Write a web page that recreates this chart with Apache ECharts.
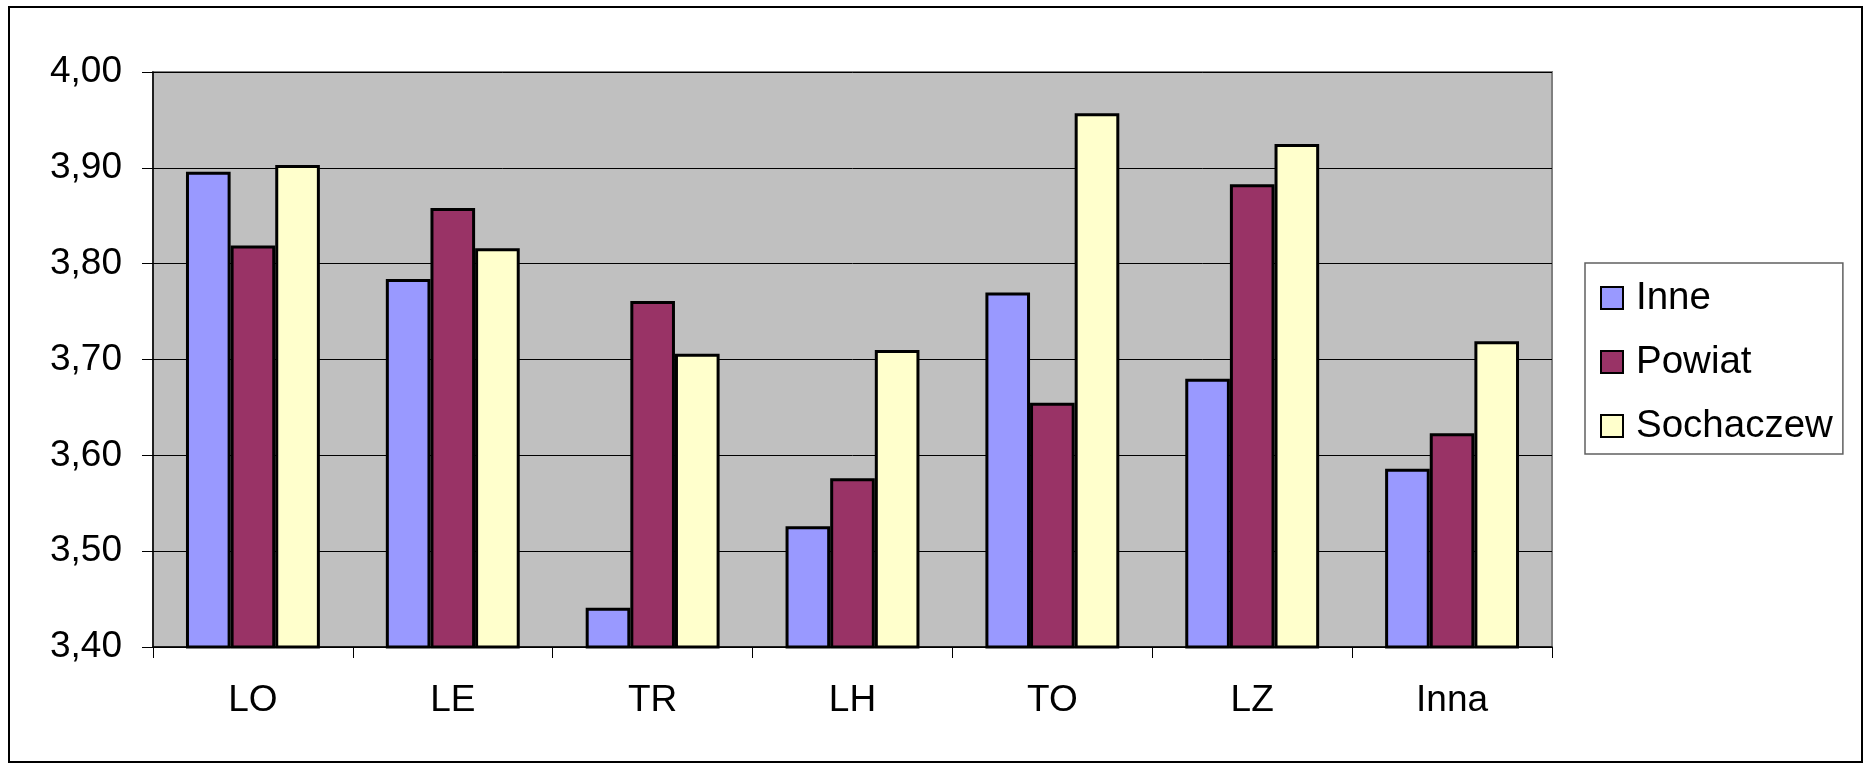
<!DOCTYPE html>
<html>
<head>
<meta charset="utf-8">
<script src="https://cdn.jsdelivr.net/npm/echarts@6/dist/echarts.min.js"></script>
<style>
html,body{margin:0;padding:0;background:#fff;}
#chart{width:1866px;height:765px;}
</style>
</head>
<body>
<div id="chart"></div>
<script>
const categories = ['LO', 'LE', 'TR', 'LH', 'TO', 'LZ', 'Inna'];
const inne = [3.896, 3.784, 3.441, 3.526, 3.770, 3.680, 3.586];
const powiat = [3.819, 3.858, 3.761, 3.576, 3.655, 3.883, 3.623];
const sochaczew = [3.903, 3.816, 3.706, 3.710, 3.957, 3.925, 3.719];
const seriesNames = ['Inne', 'Powiat', 'Sochaczew'];
const seriesColors = ['#9999FF', '#993366', '#FFFFCC'];
const yMin = 3.4, yMax = 4.0, yStep = 0.1;

const FONT = '"Liberation Sans", Arial, sans-serif';
const chart = echarts.init(document.getElementById('chart'), null, {renderer: 'canvas'});
const values = [inne, powiat, sochaczew];

chart.setOption({
  animation: false,
  backgroundColor: '#ffffff',
  graphic: [{
    type: 'rect',
    shape: {x: 9, y: 7, width: 1853, height: 755},
    style: {fill: 'none', stroke: '#000', lineWidth: 2},
    z: -1
  }],
  grid: {
    left: 153, top: 72, width: 1399, height: 575,
    show: true, backgroundColor: '#C0C0C0', borderColor: '#808080', borderWidth: 2
  },
  legend: {
    orient: 'vertical',
    left: 1585, top: 263,
    backgroundColor: '#fff',
    borderColor: '#606060', borderWidth: 1.5,
    padding: [14, 10, 7, 15],
    itemWidth: 22, itemHeight: 22, itemGap: 22,
    icon: 'rect',
    textStyle: {fontSize: 38.5, fontFamily: FONT, color: '#000', lineHeight: 42, padding: [0, 0, 0, 8]},
    data: seriesNames
  },
  xAxis: {
    type: 'category',
    data: categories,
    boundaryGap: true,
    axisLine: {lineStyle: {color: '#000', width: 1.5}},
    axisTick: {show: true, length: 11, lineStyle: {color: '#000', width: 1}},
    axisLabel: {fontSize: 37, fontFamily: FONT, color: '#000', margin: 35},
    splitLine: {show: false}
  },
  yAxis: {
    type: 'value',
    min: yMin, max: yMax, interval: yStep,
    axisLine: {show: true, lineStyle: {color: '#000', width: 1.5}},
    axisTick: {show: true, length: 11, lineStyle: {color: '#000', width: 1}},
    axisLabel: {
      fontSize: 37, fontFamily: FONT, color: '#000', margin: 31,
      formatter: v => v.toFixed(2).replace('.', ',')
    },
    splitLine: {show: true, lineStyle: {color: '#000', width: 1}}
  },
  series: seriesNames.map((name, i) => ({
    name: name,
    type: 'bar',
    data: values[i],
    barGap: '0%',
    barCategoryGap: '33%',
    itemStyle: {color: seriesColors[i], borderColor: '#000', borderWidth: 3}
  }))
});
</script>
</body>
</html>
